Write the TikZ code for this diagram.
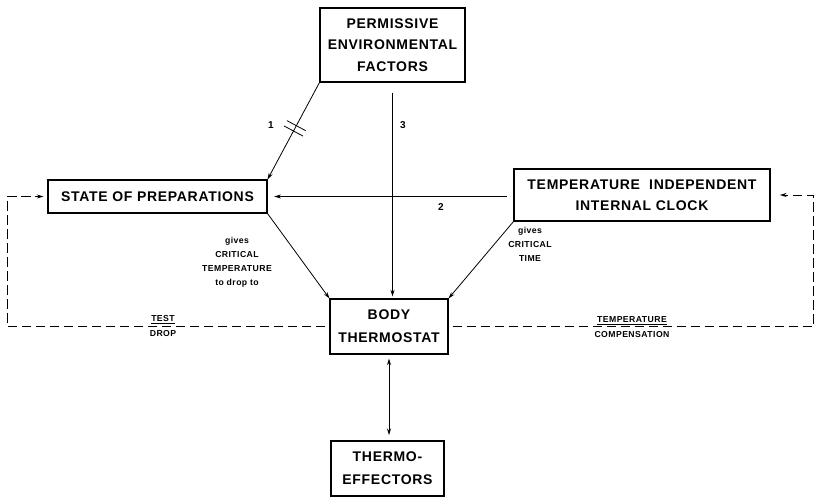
\documentclass[tikz,border=0pt]{standalone}
\usepackage{fontspec}
\newfontfamily\lettering[LetterSpace=5]{Liberation Sans}
\usetikzlibrary{arrows.meta,calc}

\tikzset{
  block/.style={draw,line width=0.8pt,inner sep=0pt,align=center,
    font=\lettering\bfseries\fontsize{10.5}{16}\selectfont},
  note/.style={inner sep=0pt,align=center,
    font=\lettering\bfseries\fontsize{6.5}{10.5}\selectfont},
  numlabel/.style={inner sep=0pt,font=\lettering\bfseries\fontsize{7.5}{9}\selectfont},
  feedback/.style={dash pattern=on 7pt off 3.5pt},
}

\begin{document}
\begin{tikzpicture}[x=0.75pt,y=-0.75pt,line width=0.6pt,>={Stealth[length=5pt,width=3pt]}]
  \useasboundingbox (0,0) rectangle (815,497);
  % boxes
  \node[block,minimum width=108.75pt,minimum height=55.5pt] (perm) at (392.5,45)
    {PERMISSIVE\\ENVIRONMENTAL\\FACTORS};
  \node[block,minimum width=164.25pt,minimum height=24.75pt] (prep) at (157.5,196.5)
    {STATE OF PREPARATIONS};
  \node[block,minimum width=192pt,minimum height=39pt] (clock) at (642,195)
    {TEMPERATURE\ \ INDEPENDENT\\INTERNAL CLOCK};
  \node[block,minimum width=88.5pt,minimum height=41.25pt] (thermo) at (389,326.5)
    {BODY\\[1.5pt]THERMOSTAT};
  \node[block,minimum width=84.75pt,minimum height=41.25pt] (effect) at (387.5,468.5)
    {THERMO-\\[1.5pt]EFFECTORS};
  % connectors
  \draw[->] (perm.south west) -- (prep.north east);
  \path (perm.south west) -- (prep.north east)
    coordinate[pos=0.445] (brka) coordinate[pos=0.50] (brkb);
  \foreach \b in {brka,brkb}
    \draw ($(\b)!8pt!90:(perm.south west)$) -- ($(\b)!8pt!-90:(perm.south west)$);
  \node[numlabel] (one) at (271,125) {1};
  \draw[->,shorten <=7.5pt,shorten >=1.5pt] (perm.south) -- (perm.south |- thermo.north);
  \node[numlabel] (three) at (403,125) {3};
  \draw[->,shorten <=5pt,shorten >=5pt] (clock.west |- prep.east) -- (prep.east);
  \node[numlabel] (two) at (441,207) {2};
  \draw[->] (prep.south east) -- (thermo.north west);
  \draw[->] (clock.south west) -- (thermo.north east);
  \draw[<->,shorten <=3pt,shorten >=4pt] (thermo.south) -- (thermo.south |- effect.north);
  % feedback loops
  \draw[feedback,->,shorten <=3pt,shorten >=3pt]
    (thermo.west) -| ($(prep.west)+(-40,0)$) -- (prep.west);
  \draw[feedback,->,shorten <=3pt,shorten >=7pt]
    (thermo.east) -| ($(clock.east)+(43,0)$) -- (clock.east);
  % notes
  \node[note] (critemp) at (237,262) {gives\\CRITICAL\\TEMPERATURE\\to drop to};
  \node[note] (crittime) at (530,244.5) {gives\\CRITICAL\\TIME};
  \node[note] (test) at (163,320) {\underline{TEST}};
  \node[note] (drop) at (163,334) {DROP};
  \node[note] (temp) at (632,321) {\underline{TEMPERATURE}};
  \node[note] (comp) at (632,335) {COMPENSATION};
\end{tikzpicture}
\end{document}
